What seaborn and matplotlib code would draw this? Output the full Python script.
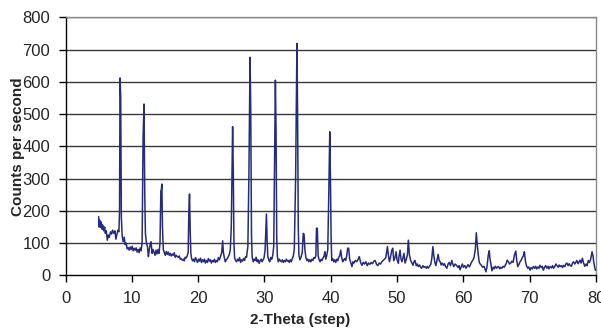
import numpy as np
import pandas as pd
import matplotlib
matplotlib.use("Agg")
import matplotlib.pyplot as plt
import seaborn as sns

# 2-theta positions and counts
two_theta = [
    5.0, 5.05, 5.15, 5.25, 5.4, 5.5, 5.6, 5.75, 5.9, 6.0, 6.15, 6.3, 6.45, 6.6, 6.8, 6.95,
    7.1, 7.3, 7.45, 7.6, 7.75, 7.9, 8.05, 8.15, 8.22, 8.32, 8.42, 8.55, 8.7, 8.85, 9.0, 9.15,
    9.3, 9.45, 9.6, 9.75, 9.9, 10.05, 10.2, 10.35, 10.5, 10.65, 10.8, 10.95, 11.1, 11.25, 11.4, 11.55,
    11.7, 11.84, 11.95, 12.05, 12.2, 12.35, 12.5, 12.6, 12.75, 12.9, 13.05, 13.2, 13.35, 13.5, 13.65, 13.8,
    13.95, 14.1, 14.25, 14.38, 14.45, 14.53, 14.62, 14.75, 14.9, 15.05, 15.2, 15.35, 15.5, 15.65, 15.8, 15.95,
    16.1, 16.25, 16.4, 16.55, 16.7, 16.85, 17.0, 17.15, 17.3, 17.45, 17.6, 17.75, 17.9, 18.05, 18.2, 18.35,
    18.5, 18.6, 18.7, 18.8, 18.9, 19.0, 19.15, 19.3, 19.45, 19.6, 19.75, 19.9, 20.05, 20.2, 20.35, 20.5,
    20.65, 20.8, 20.95, 21.1, 21.25, 21.4, 21.55, 21.7, 21.85, 22.0, 22.15, 22.3, 22.45, 22.6, 22.75, 22.9,
    23.05, 23.2, 23.4, 23.55, 23.7, 23.8, 23.95, 24.1, 24.25, 24.4, 24.55, 24.7, 24.85, 25.0, 25.2, 25.3,
    25.4, 25.5, 25.65, 25.8, 25.95, 26.1, 26.25, 26.4, 26.55, 26.7, 26.85, 27.0, 27.15, 27.3, 27.5, 27.65,
    27.83, 27.93, 28.05, 28.15, 28.3, 28.45, 28.6, 28.75, 28.9, 29.05, 29.2, 29.35, 29.5, 29.65, 29.8, 29.95,
    30.1, 30.3, 30.4, 30.5, 30.65, 30.8, 30.95, 31.1, 31.25, 31.4, 31.5, 31.65, 31.75, 31.85, 31.95, 32.1,
    32.25, 32.4, 32.55, 32.7, 32.85, 33.0, 33.15, 33.3, 33.45, 33.6, 33.75, 33.9, 34.05, 34.2, 34.35, 34.5,
    34.7, 34.9, 35.0, 35.1, 35.2, 35.35, 35.5, 35.7, 35.85, 35.97, 36.1, 36.25, 36.4, 36.55, 36.7, 36.85,
    37.0, 37.15, 37.3, 37.45, 37.6, 37.75, 37.85, 37.97, 38.1, 38.25, 38.4, 38.55, 38.7, 38.85, 39.0, 39.1,
    39.25, 39.4, 39.55, 39.7, 39.85, 39.95, 40.05, 40.15, 40.3, 40.45, 40.6, 40.75, 40.9, 41.05, 41.2, 41.35,
    41.5, 41.65, 41.8, 41.95, 42.1, 42.25, 42.4, 42.55, 42.7, 42.85, 43.0, 43.2, 43.35, 43.5, 43.7, 43.9,
    44.1, 44.3, 44.5, 44.7, 44.9, 45.1, 45.3, 45.5, 45.7, 45.9, 46.1, 46.3, 46.5, 46.7, 46.9, 47.1,
    47.3, 47.5, 47.7, 47.9, 48.1, 48.3, 48.55, 48.7, 48.85, 49.0, 49.2, 49.35, 49.5, 49.7, 49.85, 50.0,
    50.2, 50.3, 50.45, 50.6, 50.75, 50.9, 51.05, 51.2, 51.4, 51.55, 51.7, 51.85, 52.05, 52.2, 52.4, 52.55,
    52.7, 52.9, 53.05, 53.2, 53.4, 53.55, 53.7, 53.9, 54.05, 54.2, 54.4, 54.55, 54.7, 54.9, 55.1, 55.25,
    55.4, 55.55, 55.7, 55.85, 56.0, 56.2, 56.35, 56.5, 56.65, 56.8, 57.0, 57.15, 57.3, 57.5, 57.7, 57.85,
    58.05, 58.25, 58.4, 58.55, 58.75, 59.0, 59.2, 59.35, 59.5, 59.7, 59.85, 60.0, 60.2, 60.4, 60.55, 60.7,
    60.9, 61.05, 61.2, 61.4, 61.6, 61.8, 61.95, 62.1, 62.25, 62.4, 62.55, 62.75, 62.9, 63.1, 63.25, 63.4,
    63.55, 63.75, 63.9, 64.0, 64.15, 64.3, 64.5, 64.65, 64.8, 65.0, 65.15, 65.3, 65.5, 65.65, 65.8, 66.0,
    66.15, 66.3, 66.45, 66.6, 66.8, 66.95, 67.15, 67.3, 67.5, 67.7, 67.9, 68.05, 68.2, 68.4, 68.55, 68.75,
    68.9, 69.05, 69.2, 69.35, 69.5, 69.7, 69.85, 70.05, 70.2, 70.4, 70.55, 70.75, 70.9, 71.05, 71.25, 71.4,
    71.55, 71.75, 71.9, 72.06, 72.25, 72.4, 72.6, 72.75, 72.9, 73.1, 73.3, 73.45, 73.6, 73.8, 73.95, 74.1,
    74.3, 74.45, 74.6, 74.8, 74.95, 75.1, 75.3, 75.45, 75.6, 75.8, 75.95, 76.1, 76.3, 76.45, 76.6, 76.8,
    76.95, 77.1, 77.3, 77.45, 77.6, 77.75, 77.95, 78.1, 78.3, 78.5, 78.65, 78.85, 79.0, 79.2, 79.4, 79.55,
    79.65, 79.8, 79.9, 80.0,
]
cps = [
    182, 150, 171, 149, 165, 143, 156, 138, 150, 130, 138, 109, 125, 118, 135, 128,
    140, 130, 138, 112, 126, 140, 135, 200, 612, 555, 180, 120, 104, 118, 95, 100,
    82, 86, 78, 88, 80, 90, 76, 84, 78, 85, 72, 80, 70, 85, 76, 100,
    430, 531, 250, 130, 100, 90, 58, 75, 94, 104, 68, 80, 72, 62, 78, 66,
    80, 68, 100, 262, 265, 283, 150, 80, 70, 62, 74, 65, 72, 62, 68, 60,
    66, 62, 70, 56, 62, 58, 56, 60, 50, 52, 47, 50, 45, 56, 54, 60,
    72, 200, 252, 140, 70, 53, 45, 50, 42, 55, 48, 40, 50, 44, 53, 40,
    48, 42, 50, 38, 46, 40, 52, 44, 48, 38, 46, 42, 50, 40, 46, 42,
    55, 48, 60, 70, 107, 72, 55, 42, 48, 52, 58, 64, 80, 150, 461, 327,
    100, 53, 46, 42, 50, 45, 55, 40, 48, 44, 52, 46, 58, 56, 90, 300,
    676, 512, 120, 56, 42, 50, 46, 56, 42, 48, 37, 45, 50, 42, 48, 55,
    80, 190, 110, 60, 48, 42, 55, 50, 62, 90, 300, 605, 450, 120, 58, 42,
    50, 45, 42, 48, 40, 46, 42, 50, 44, 46, 40, 48, 42, 52, 60, 80,
    300, 719, 502, 150, 62, 48, 55, 70, 130, 128, 80, 55, 46, 50, 42, 48,
    42, 50, 46, 55, 53, 60, 146, 146, 60, 48, 42, 50, 46, 55, 60, 73,
    50, 62, 80, 250, 445, 306, 120, 46, 52, 42, 48, 40, 50, 45, 56, 60,
    78, 55, 42, 48, 52, 46, 60, 84, 84, 50, 40, 27, 42, 38, 46, 42,
    48, 58, 40, 31, 40, 35, 42, 30, 38, 34, 40, 36, 44, 46, 34, 30,
    38, 35, 42, 46, 50, 55, 89, 60, 42, 55, 78, 84, 45, 55, 73, 48,
    37, 60, 78, 50, 42, 55, 68, 38, 50, 62, 109, 65, 46, 40, 31, 42,
    46, 30, 35, 27, 32, 25, 22, 30, 25, 27, 22, 28, 22, 28, 35, 55,
    89, 60, 40, 30, 45, 65, 45, 42, 32, 38, 31, 36, 28, 22, 35, 40,
    30, 46, 35, 27, 35, 30, 24, 30, 17, 28, 35, 25, 30, 22, 28, 33,
    26, 32, 40, 46, 55, 80, 132, 94, 62, 40, 35, 30, 25, 28, 20, 11,
    25, 62, 76, 53, 35, 14, 25, 20, 28, 22, 26, 27, 20, 25, 22, 28,
    25, 31, 36, 47, 42, 35, 38, 44, 40, 63, 75, 45, 27, 35, 42, 48,
    56, 60, 73, 45, 30, 22, 26, 16, 24, 20, 27, 22, 28, 20, 26, 22,
    31, 24, 28, 16, 25, 30, 22, 28, 20, 27, 23, 30, 22, 28, 35, 30,
    25, 32, 27, 30, 24, 31, 27, 35, 38, 30, 36, 31, 28, 38, 42, 35,
    40, 46, 36, 42, 47, 38, 53, 40, 28, 35, 30, 46, 40, 50, 73, 60,
    42, 25, 16, 16,
]
y_ticks = [0, 100, 200, 300, 400, 500, 600, 700, 800]
x_ticks = [0, 10, 20, 30, 40, 50, 60, 70, 80]

df = pd.DataFrame({"two_theta": two_theta, "cps": cps})

sns.set_theme(style="white")
plt.rcParams["font.family"] = ["Liberation Sans Narrow", "Liberation Sans", "DejaVu Sans"]

fig, ax = plt.subplots(figsize=(6.01, 3.29), dpi=100)
fig.subplots_adjust(left=0.109, right=0.9917, top=0.9474, bottom=0.1632)

# horizontal gridlines like the spreadsheet chart
for yv in y_ticks[1:]:
    ax.axhline(yv, color="#3a3a3a", lw=1.0, zorder=1)

sns.lineplot(data=df, x="two_theta", y="cps", ax=ax, color="#262b7d",
             lw=1.1, estimator=None, sort=False, zorder=3)

ax.set_xlim(0, 80)
ax.set_ylim(0, 800)
ax.set_xticks(x_ticks)
ax.set_yticks(y_ticks)
ax.tick_params(axis="both", direction="out", length=5, width=1, color="black",
               labelsize=12, pad=6, bottom=True, left=True)

for side in ["left", "bottom"]:
    ax.spines[side].set_color("black")
    ax.spines[side].set_linewidth(1.0)
for side in ["top", "right"]:
    ax.spines[side].set_color("#8a8a8a")
    ax.spines[side].set_linewidth(1.0)

ax.set_xlabel("2-Theta (step)", fontsize=11, fontweight="bold",
              family=["Liberation Sans", "DejaVu Sans"])
ax.set_ylabel("Counts per second", fontsize=11, fontweight="bold",
              family=["Liberation Sans", "DejaVu Sans"])
ax.xaxis.set_label_coords(0.442, -0.145)
ax.yaxis.set_label_coords(-0.076, 0.5)

plt.savefig("out.png", dpi=100)
plt.close()
